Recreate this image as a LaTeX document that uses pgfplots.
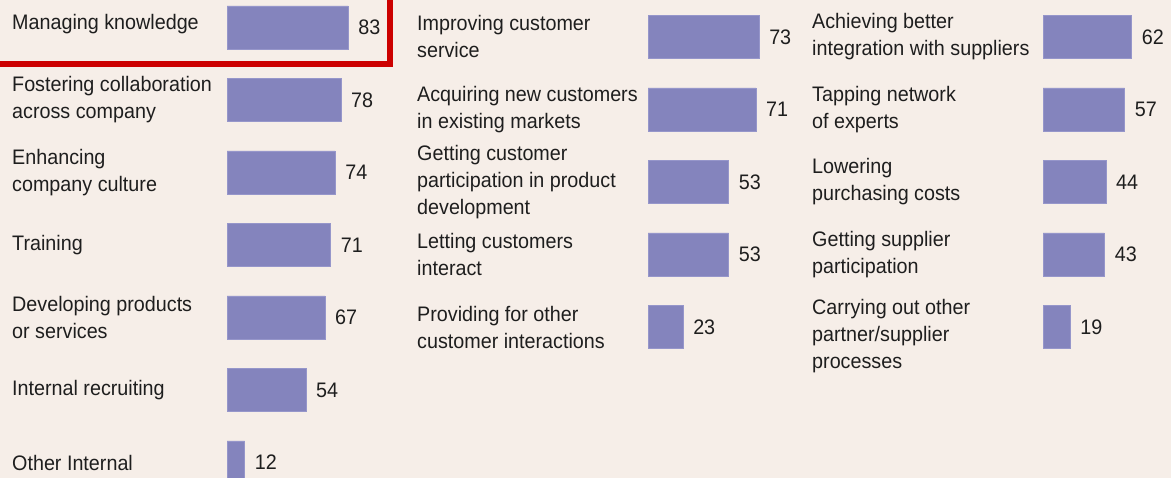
\documentclass[border=0pt]{standalone}
\usepackage{fontspec}
\setmainfont{Liberation Sans}[FakeStretch=0.94]
\usepackage{pgfplots}
\pgfplotsset{compat=1.18}
\definecolor{bg}{RGB}{246,238,232}
\definecolor{barc}{RGB}{132,132,189}
\definecolor{baredge}{RGB}{150,150,202}
\definecolor{boxred}{RGB}{204,0,0}
\definecolor{txt}{RGB}{30,30,30}
\newcommand\lab{\fontsize{21}{27}\selectfont}
\pgfplotsset{
  panel/.style={
    scale only axis, height=478pt, y dir=reverse,
    xbar, bar width=43pt, xmin=0, xmax=100,
    clip=false,
    axis line style={draw=none}, xtick=\empty, ytick style={draw=none},
    major tick length=0pt,
    /pgf/number format/assume math mode=true,
    yticklabel style={anchor=west, align=left, inner sep=0pt, font=\lab, text=txt},
    nodes near coords,
    every node near coord/.append style={anchor=west, inner sep=0pt, xshift=10pt, font=\lab, text=txt},
    anchor=south west,
  },
  barstyle/.style={fill=barc, draw=baredge, line width=0.6pt},
}
\begin{document}
\begin{tikzpicture}[x=1pt,y=1pt]
\fill[bg] (0,0) rectangle (1171,478);
% Panel 1: internal
\begin{axis}[panel, at={(227pt,0pt)}, width=146pt,
  ymin=-0.3793, ymax=6.2138,
  ytick={-0.05,1,2,3,4,5,6},
  yticklabel style={xshift=-215pt},
  yticklabels={Managing knowledge, {Fostering collaboration\\across company}, {Enhancing\\company culture}, Training, {Developing products\\or services}, Internal recruiting, Other Internal}]
\addplot[barstyle] coordinates {(83,0) (78,1) (74,2) (71,3) (67,4) (54,5) (12,6)};
\end{axis}
% Panel 2: customers
\begin{axis}[panel, at={(648pt,0pt)}, width=152pt,
  ymin=-0.5103, ymax=6.0828,
  ytick={0,1,2,3,4},
  yticklabel style={xshift=-231pt},
  yticklabels={{Improving customer\\service}, {Acquiring new customers\\in existing markets}, {Getting customer\\participation in product\\development}, {Letting customers\\interact}, {Providing for other\\customer interactions}}]
\addplot[barstyle] coordinates {(73,0) (71,1) (53,2) (53,3) (23,4)};
\end{axis}
% Panel 3: suppliers
\begin{axis}[panel, at={(1043pt,0pt)}, width=143pt,
  ymin=-0.5103, ymax=6.0828,
  ytick={0,1,2,3,4.12},
  yticklabel style={xshift=-231pt},
  yticklabels={{Achieving better\\integration with suppliers}, {Tapping network\\of experts}, {Lowering\\purchasing costs}, {Getting supplier\\participation}, {Carrying out other\\partner/supplier\\processes}}]
\addplot[barstyle] coordinates {(62,0) (57,1) (44,2) (43,3) (19,4)};
\end{axis}
\draw[boxred, line width=6pt, line join=miter] (-10,414) -- (390,414) -- (390,490);
\pgfresetboundingbox
\path[use as bounding box] (0,0) rectangle (1171,478);
\end{tikzpicture}
\end{document}
